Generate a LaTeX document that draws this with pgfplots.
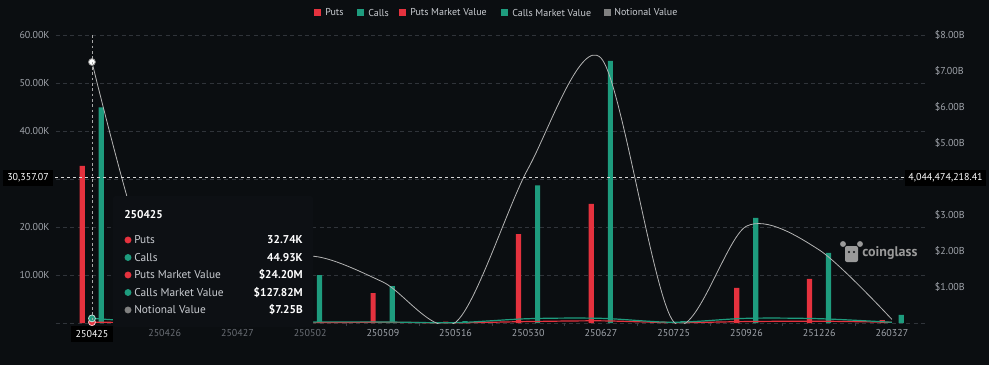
\documentclass[border=0pt]{standalone}
\usepackage{pgfplots}
\pgfplotsset{compat=1.18}
\usepackage{fontspec}
\setmainfont{PT Sans}
\definecolor{bg}{HTML}{0B0E11}
\definecolor{gridc}{HTML}{30343A}
\definecolor{tickc}{HTML}{A0A4AB}
\definecolor{dimc}{HTML}{6A6E75}
\definecolor{legc}{HTML}{C9CCD1}
\definecolor{putc}{HTML}{E5323E}
\definecolor{callc}{HTML}{1E9C7E}
\definecolor{notc}{HTML}{B4B4B4}
\definecolor{crossc}{HTML}{A8A8A8}
\definecolor{tipbg}{HTML}{0D1014}
\definecolor{wm}{HTML}{9A9A9A}
\definecolor{minc}{HTML}{3A3E45}
\begin{document}
\begin{tikzpicture}
\path[use as bounding box] (0,0) rectangle (741.75pt,-273.75pt);
\fill[bg] (0,0) rectangle (741.75pt,-273.75pt);
\pgfplotsset{base/.style={at={(41.7pt,-242.25pt)}, anchor=south west, scale only axis,
  width=654.5pt, height=216pt, xmin=-0.5, xmax=11.5}}
% ---------- left axis: bars ----------
\begin{axis}[base, ymin=0, ymax=60000, scaled y ticks=false,
  axis line style={draw=none}, tick pos=left,
  ytick={0,10000,20000,30000,40000,50000,60000},
  yticklabels={,10.00K,20.00K,,40.00K,50.00K,60.00K},
  ymajorgrids, grid style={gridc, dash pattern=on 3pt off 2.5pt, line width=0.5pt},
  major tick length=0pt,
  xtick={0,...,11},
  xticklabels={,{\color{dimc}250426},{\color{dimc}250427},{\color{dimc}250502},250509,250516,250530,250627,250725,250926,251226,260327},
  minor xtick={0.5,1.5,...,10.5}, minor tick length=2.25pt, tick align=outside,
  minor x tick style={minc, line width=0.5pt},
  tick label style={font=\fontsize{7.5}{9}\selectfont, text=tickc},
  xticklabel style={yshift=-1.5pt},
  yticklabel style={xshift=-1pt},
]
\addplot[ybar, bar width=3.9pt, bar shift=-7.3pt, fill=putc, draw=none] coordinates {
(0,32740) (1,300) (2,200) (3,500) (4,6250) (5,300) (6,18500) (7,24800) (8,300) (9,7300) (10,9200) (11,600)};
\addplot[ybar, bar width=3.9pt, bar shift=7.0pt, fill=callc, draw=none] coordinates {
(0,44930) (1,500) (2,300) (3,10000) (4,7700) (5,400) (6,28700) (7,54600) (8,400) (9,21900) (10,14600) (11,1700)};
\end{axis}
% ---------- right axis: lines ----------
\begin{axis}[base, ymin=0, ymax=8,
  axis line style={draw=none}, axis y line*=right, xtick=\empty,
  ytick={1,...,8},
  yticklabels={\$1.00B,\$2.00B,\$3.00B,,\$5.00B,\$6.00B,\$7.00B,\$8.00B},
  major tick length=0pt,
  tick label style={font=\fontsize{7.5}{9}\selectfont, text=tickc},
  yticklabel style={xshift=1.5pt},
]
\addplot[smooth, tension=0.5, draw=putc, line width=0.9pt] coordinates {
(0,0.024) (1,0.005) (2,0.005) (3,0.01) (4,0.02) (5,0.005) (6,0.04) (7,0.06) (8,0.01) (9,0.04) (10,0.05) (11,0.02)};
\addplot[smooth, tension=0.5, draw=callc, line width=0.9pt] coordinates {
(0,0.128) (1,0.01) (2,0.01) (3,0.03) (4,0.03) (5,0.01) (6,0.12) (7,0.13) (8,0.02) (9,0.13) (10,0.12) (11,0.02)};
\addplot[smooth, tension=0.5, draw=notc, line width=0.6pt] coordinates {
(0,7.25) (1,0.4) (2,1.2) (3,1.86) (4,1.14) (5,0.02) (6,4.3) (7,7.36) (8,0.03) (9,2.69) (10,2.03) (11,0.1)};
\end{axis}
% ---------- hover marks ----------
\begin{axis}[base, ymin=0, ymax=8, hide axis, clip=false]
\addplot[only marks, mark=*, mark size=2.6pt, mark options={fill=putc, draw=white!70!putc, line width=0.6pt}] coordinates {(0,0.024)};
\addplot[only marks, mark=*, mark size=2.6pt, mark options={fill=callc, draw=white!70!callc, line width=0.6pt}] coordinates {(0,0.128)};
\addplot[only marks, mark=*, mark size=2.6pt, mark options={fill=white, draw=gray, line width=0.6pt}] coordinates {(0,7.25)};
\end{axis}
% ---------- overlays in pixel units ----------
\begin{scope}[x=0.75pt, y=-0.75pt]
% legend
\begin{scope}[font=\fontsize{7.5}{9}\selectfont, text=legc]
\fill[putc] (314,9) rectangle (321,16); \node[anchor=west, inner sep=0] at (325,12.5) {Puts};
\fill[callc] (357,9) rectangle (364,16); \node[anchor=west, inner sep=0] at (368,12.5) {Calls};
\fill[putc] (399,9) rectangle (406,16); \node[anchor=west, inner sep=0] at (410,12.5) {Puts Market Value};
\fill[callc] (501,9) rectangle (508,16); \node[anchor=west, inner sep=0] at (512,12.5) {Calls Market Value};
\fill[gray] (604,9) rectangle (611,16); \node[anchor=west, inner sep=0] at (614,12.5) {Notional Value};
\end{scope}
% watermark
\fill[wm, rounded corners=1.5pt] (845,246) rectangle (858,262);
\fill[wm] (843,244) circle (2.2pt); \fill[wm] (860,244) circle (2.2pt);
\fill[bg] (849,252) circle (0.9pt); \fill[bg] (854,252) circle (0.9pt);
\node[anchor=west, inner sep=0, font=\bfseries\fontsize{10.5}{12}\selectfont, text=wm] at (862,253) {coinglass};
% crosshair
\draw[crossc, dash pattern=on 2pt off 2pt, line width=0.5pt] (92,35) -- (92,323);
\draw[white!85!black, dash pattern=on 2.5pt off 2pt, line width=0.6pt] (55,177.5) -- (905,177.5);
\fill[black] (3,169.5) rectangle (53,186);
\node[text=white, inner sep=0, font=\fontsize{7.5}{9}\selectfont] at (28,178) {30,357.07};
\fill[black] (905,169.5) rectangle (986,186);
\node[text=white, inner sep=0, font=\fontsize{7.5}{9}\selectfont] at (945.5,178) {4,044,474,218.41};
\fill[black] (71,325.5) rectangle (113,342);
\node[text=white, inner sep=0, font=\fontsize{7.5}{9}\selectfont] at (92,334) {250425};
% tooltip
\fill[tipbg, rounded corners=2pt] (113,196) rectangle (313,327);
\node[anchor=west, inner sep=0, text=white, font=\bfseries\fontsize{8.5}{10}\selectfont] at (124,215) {250425};
\begin{scope}[font=\fontsize{8.5}{10}\selectfont]
\foreach \yy/\col/\lab/\val in {240/putc/Puts/32.74K, 257.5/callc/Calls/44.93K, 275/putc/Puts Market Value/\$24.20M, 292.5/callc/Calls Market Value/\$127.82M, 310/gray/Notional Value/\$7.25B}{
  \fill[\col] (128,\yy) circle (2.6pt);
  \node[anchor=west, inner sep=0, text=legc] at (134,\yy) {\lab};
  \node[anchor=east, inner sep=0, text=white, font=\bfseries\fontsize{8.5}{10}\selectfont] at (303,\yy) {\val};
}
\end{scope}
\end{scope}
\end{tikzpicture}
\end{document}
